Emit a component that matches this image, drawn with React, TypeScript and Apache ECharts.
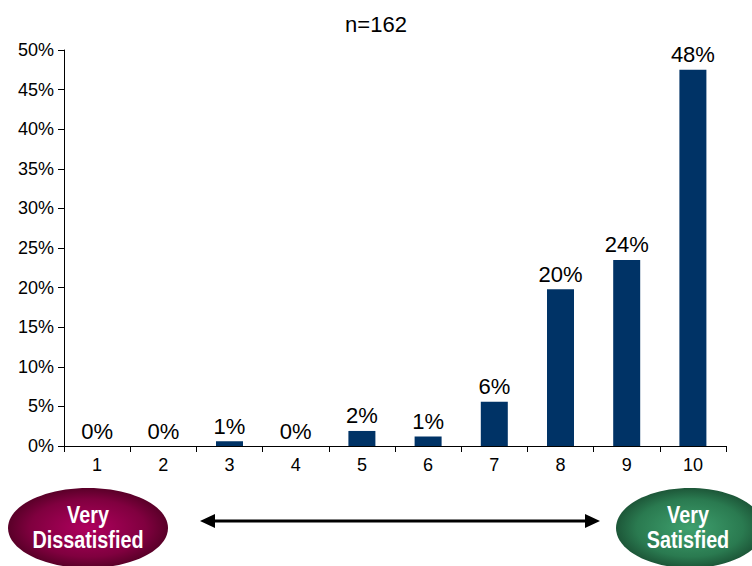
import React, { useEffect, useRef } from "react";
import * as echarts from "echarts";

// Satisfaction ratings (1 = very dissatisfied, 10 = very satisfied), share of respondents
const categories = ["1", "2", "3", "4", "5", "6", "7", "8", "9", "10"];
const shares = [0, 0, 0.6, 0, 1.9, 1.2, 5.6, 19.8, 23.5, 47.5];
const sampleLabel = "n=162";
const yMax = 50;
const yStep = 5;

const FONT = "Arial, 'Liberation Sans', Helvetica, sans-serif";
const NARROW = "'Liberation Sans Narrow', 'Arial Narrow', 'Liberation Sans', Arial, sans-serif";

// White bold caption squeezed horizontally, centred at (x, y)
function caption(text: string, x: number, y: number) {
  return {
    type: "text",
    x,
    y,
    scaleX: 0.86,
    style: {
      text,
      x: 0,
      y: 0,
      align: "center",
      verticalAlign: "middle",
      fill: "#fff",
      fontFamily: NARROW,
      fontWeight: "bold",
      fontSize: 23,
    },
  };
}

export default function App() {
  const ref = useRef<HTMLDivElement>(null);

  useEffect(() => {
    if (!ref.current) return;
    const chart = echarts.init(ref.current, null, { renderer: "svg" });

    const redFill = new echarts.graphic.RadialGradient(0.5, 0.5, 0.6, [
      { offset: 0, color: "#b0005e" },
      { offset: 0.6, color: "#80003f" },
      { offset: 1, color: "#3e0018" },
    ]);
    const greenFill = new echarts.graphic.RadialGradient(0.5, 0.5, 0.6, [
      { offset: 0, color: "#3fa06e" },
      { offset: 0.6, color: "#2a7a50" },
      { offset: 1, color: "#133d27" },
    ]);

    const arrowY = 521;
    const arrowL = 200;
    const arrowR = 600;

    chart.setOption({
      animation: false,
      backgroundColor: "#ffffff",
      title: {
        text: sampleLabel,
        left: "center",
        top: 8,
        textStyle: { fontFamily: FONT, fontSize: 22, fontWeight: "normal", color: "#000" },
      },
      grid: { left: 64, right: 26, top: 50, bottom: 120, containLabel: false },
      xAxis: {
        type: "category",
        data: categories,
        axisLine: { lineStyle: { color: "#000", width: 1 } },
        axisTick: { show: true, length: 6, lineStyle: { color: "#000" } },
        axisLabel: { color: "#000", fontFamily: FONT, fontSize: 18, margin: 10 },
      },
      yAxis: {
        type: "value",
        min: 0,
        max: yMax,
        interval: yStep,
        splitLine: { show: false },
        axisLine: { show: true, lineStyle: { color: "#000", width: 1 } },
        axisTick: { show: true, length: 6, lineStyle: { color: "#000" } },
        axisLabel: {
          color: "#000",
          fontFamily: FONT,
          fontSize: 18,
          margin: 10,
          formatter: "{value}%",
        },
      },
      series: [
        {
          type: "bar",
          data: shares,
          barWidth: 27,
          itemStyle: { color: "#003366" },
          label: {
            show: true,
            position: "top",
            distance: 4,
            color: "#000",
            fontFamily: FONT,
            fontSize: 22,
            formatter: (p: any) => `${Math.round(p.value)}%`,
          },
        },
      ],
      graphic: [
        {
          type: "ellipse",
          shape: { cx: 88, cy: 528, rx: 80, ry: 40 },
          style: { fill: redFill },
        },
        caption("Very", 88, 515),
        caption("Dissatisfied", 88, 540),
        {
          type: "ellipse",
          shape: { cx: 690, cy: 528, rx: 74, ry: 40 },
          style: { fill: greenFill },
        },
        caption("Very", 688, 515),
        caption("Satisfied", 688, 540),
        {
          type: "line",
          shape: { x1: arrowL + 10, y1: arrowY, x2: arrowR - 10, y2: arrowY },
          style: { stroke: "#000", lineWidth: 3 },
        },
        {
          type: "polygon",
          shape: {
            points: [
              [arrowL, arrowY],
              [arrowL + 15, arrowY - 7],
              [arrowL + 15, arrowY + 7],
            ],
          },
          style: { fill: "#000" },
        },
        {
          type: "polygon",
          shape: {
            points: [
              [arrowR, arrowY],
              [arrowR - 15, arrowY - 7],
              [arrowR - 15, arrowY + 7],
            ],
          },
          style: { fill: "#000" },
        },
      ],
    });

    return () => chart.dispose();
  }, []);

  return <div ref={ref} style={{ width: 752, height: 566, position: "absolute", left: 0, top: 0 }} />;
}
